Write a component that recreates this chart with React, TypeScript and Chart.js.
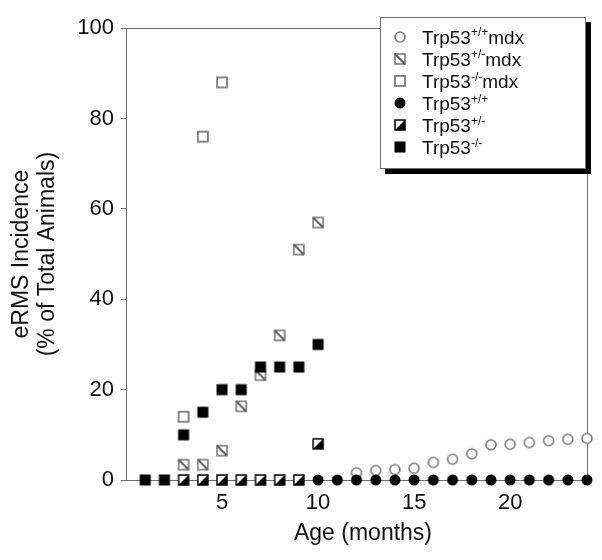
import React, { useEffect, useRef } from "react";
import { Chart, registerables } from "chart.js";

Chart.register(...registerables);

// ---- data ----
const months = [1, 2, 3, 4, 5, 6, 7, 8, 9, 10, 11, 12, 13, 14, 15, 16, 17, 18, 19, 20, 21, 22, 23, 24];
const xTickValues = [5, 10, 15, 20];
const yTickValues = [0, 20, 40, 60, 80, 100];

const trp53WtMdx = [null, null, null, null, null, null, null, null, null, null, null, 1.6, 2.1, 2.3, 2.6, 3.9, 4.6, 5.8, 7.8, 7.9, 8.3, 8.7, 9.0, 9.2];
const trp53HetMdx = [null, null, 3.4, 3.4, 6.5, 16.3, 23.2, 32.0, 51.0, 57.0, null, null, null, null, null, null, null, null, null, null, null, null, null, null];
const trp53NullMdx = [null, null, 14, 76, 88, null, null, null, null, null, null, null, null, null, null, null, null, null, null, null, null, null, null, null];
const trp53Wt = [null, null, null, null, null, null, null, null, null, 0, 0, 0, 0, 0, 0, 0, 0, 0, 0, 0, 0, 0, 0, 0];
const trp53Het = [null, null, 0, 0, 0, 0, 0, 0, 0, 8, null, null, null, null, null, null, null, null, null, null, null, null, null, null];
const trp53Null = [0, 0, 10, 15, 20, 20, 25, 25, 25, 30, null, null, null, null, null, null, null, null, null, null, null, null, null, null];

const legendNames: [string, string, string][] = [
  ["Trp53", "+/+", "mdx"],
  ["Trp53", "+/-", "mdx"],
  ["Trp53", "-/-", "mdx"],
  ["Trp53", "+/+", ""],
  ["Trp53", "+/-", ""],
  ["Trp53", "-/-", ""],
];
const yTitleLines = ["eRMS Incidence", "(% of Total Animals)"];
const xTitle = "Age (months)";

const FONT = "'Liberation Sans', Arial, Helvetica, sans-serif";
const GRAY = "#7a7a7a";

function toPoints(arr: (number | null)[]) {
  const out: { x: number; y: number }[] = [];
  months.forEach((m, i) => {
    const v = arr[i];
    if (v !== null && v !== undefined) out.push({ x: m, y: v });
  });
  return out;
}

function makeMarker(kind: string): HTMLCanvasElement {
  const s = 14;
  const c = document.createElement("canvas");
  c.width = s;
  c.height = s;
  const g = c.getContext("2d")!;
  if (kind === "openCircle") {
    g.beginPath();
    g.arc(7, 7, 5, 0, Math.PI * 2);
    g.fillStyle = "#fff";
    g.fill();
    g.lineWidth = 1.6;
    g.strokeStyle = GRAY;
    g.stroke();
  } else if (kind === "hatchSquare") {
    g.fillStyle = "#fff";
    g.fillRect(2, 2, 10, 10);
    g.lineWidth = 1.6;
    g.strokeStyle = GRAY;
    g.strokeRect(2, 2, 10, 10);
    g.beginPath();
    g.moveTo(2, 2);
    g.lineTo(12, 12);
    g.lineWidth = 1.8;
    g.strokeStyle = "#555";
    g.stroke();
  } else if (kind === "openSquare") {
    g.fillStyle = "#fff";
    g.fillRect(2, 2, 10, 10);
    g.lineWidth = 1.8;
    g.strokeStyle = GRAY;
    g.strokeRect(2, 2, 10, 10);
  } else if (kind === "filledCircle") {
    g.beginPath();
    g.arc(7, 7, 5.5, 0, Math.PI * 2);
    g.fillStyle = "#000";
    g.fill();
  } else if (kind === "halfSquare") {
    g.fillStyle = "#fff";
    g.fillRect(2, 2, 10, 10);
    g.beginPath();
    g.moveTo(12, 2);
    g.lineTo(12, 12);
    g.lineTo(2, 12);
    g.closePath();
    g.fillStyle = "#000";
    g.fill();
    g.lineWidth = 1.5;
    g.strokeStyle = "#000";
    g.strokeRect(2, 2, 10, 10);
  } else {
    g.fillStyle = "#000";
    g.fillRect(1.5, 1.5, 11, 11);
  }
  return c;
}

export default function App() {
  const ref = useRef<HTMLCanvasElement | null>(null);

  useEffect(() => {
    if (!ref.current) return;
    const markers = {
      openCircle: makeMarker("openCircle"),
      hatchSquare: makeMarker("hatchSquare"),
      openSquare: makeMarker("openSquare"),
      filledCircle: makeMarker("filledCircle"),
      halfSquare: makeMarker("halfSquare"),
      filledSquare: makeMarker("filledSquare"),
    };
    const legendMarkers = [
      markers.openCircle,
      markers.hatchSquare,
      markers.openSquare,
      markers.filledCircle,
      markers.halfSquare,
      markers.filledSquare,
    ];

    const decor = {
      id: "decor",
      beforeDatasetsDraw(chart: any) {
        const { ctx, chartArea } = chart;
        const { left, top, right, bottom } = chartArea;
        ctx.save();
        ctx.strokeStyle = "#6e6e6e";
        ctx.lineWidth = 1;
        ctx.strokeRect(Math.round(left) + 0.5, Math.round(top) + 0.5, Math.round(right - left), Math.round(bottom - top));
        const xs = chart.scales.x;
        ctx.beginPath();
        xTickValues.forEach((v) => {
          const px = Math.round(xs.getPixelForValue(v)) + 0.5;
          ctx.moveTo(px, bottom);
          ctx.lineTo(px, bottom - 5);
        });
        ctx.stroke();
        ctx.restore();
      },
      afterDraw(chart: any) {
        const { ctx, chartArea } = chart;
        ctx.save();
        // axis titles
        ctx.fillStyle = "#111";
        ctx.font = `23px ${FONT}`;
        ctx.textAlign = "center";
        ctx.textBaseline = "middle";
        const cy = (chartArea.top + chartArea.bottom) / 2;
        const xPositions = [14, 40];
        yTitleLines.forEach((line, i) => {
          ctx.save();
          ctx.translate(xPositions[i], cy);
          ctx.rotate(-Math.PI / 2);
          ctx.fillText(line, 0, 0);
          ctx.restore();
        });
        ctx.textBaseline = "alphabetic";
        ctx.fillText(xTitle, 355, 532);

        // legend
        const bx = 372, by = 9, bw = 206, bh = 152;
        ctx.fillStyle = "#000";
        ctx.fillRect(bx + 5, by + 5, bw, bh);
        ctx.fillStyle = "#fff";
        ctx.fillRect(bx, by, bw, bh);
        ctx.strokeStyle = "#6e6e6e";
        ctx.lineWidth = 1;
        ctx.strokeRect(bx + 0.5, by + 0.5, bw - 1, bh - 1);
        const rows = [28.7, 50.5, 73, 95.3, 117, 139.3];
        legendNames.forEach((parts, i) => {
          const yc = rows[i];
          const m = legendMarkers[i];
          ctx.drawImage(m, 392 - 7, Math.round(yc) - 7);
          let x = 414;
          const base = yc + 7;
          ctx.fillStyle = "#111";
          ctx.textAlign = "left";
          ctx.font = `19px ${FONT}`;
          ctx.fillText(parts[0], x, base);
          x += ctx.measureText(parts[0]).width;
          ctx.font = `12px ${FONT}`;
          ctx.fillText(parts[1], x, base - 7.5);
          x += ctx.measureText(parts[1]).width;
          if (parts[2]) {
            ctx.font = `19px ${FONT}`;
            ctx.fillText(parts[2], x, base);
          }
        });
        ctx.restore();
      },
    };

    const ds = (label: string, data: (number | null)[], marker: HTMLCanvasElement, order: number) => ({
      label,
      data: toPoints(data),
      pointStyle: marker,
      pointRadius: 6,
      showLine: false,
      order,
      clip: false as any,
    });

    const chart = new Chart(ref.current, {
      type: "scatter",
      data: {
        datasets: [
          ds("Trp53+/+mdx", trp53WtMdx, markers.openCircle, 6),
          ds("Trp53+/-mdx", trp53HetMdx, markers.hatchSquare, 5),
          ds("Trp53-/-mdx", trp53NullMdx, markers.openSquare, 4),
          ds("Trp53+/+", trp53Wt, markers.filledCircle, 3),
          ds("Trp53+/-", trp53Het, markers.halfSquare, 2),
          ds("Trp53-/-", trp53Null, markers.filledSquare, 1),
        ] as any,
      },
      options: {
        animation: false,
        responsive: false,
        layout: { padding: { left: 0, top: 9, right: 5, bottom: 0 } },
        plugins: { legend: { display: false }, tooltip: { enabled: false } },
        scales: {
          x: {
            type: "linear",
            min: 0,
            max: 24,
            afterFit: (s: any) => { s.height = 72; },
            afterBuildTicks: (s: any) => { s.ticks = xTickValues.map((v) => ({ value: v })); },
            grid: { display: false, drawTicks: false },
            border: { display: false },
            ticks: { color: "#111", font: { size: 22, family: FONT }, padding: 10, maxRotation: 0 },
          },
          y: {
            type: "linear",
            min: 0,
            max: 100,
            afterFit: (s: any) => { s.width = 118; },
            afterBuildTicks: (s: any) => { s.ticks = yTickValues.map((v) => ({ value: v })); },
            grid: { display: true, drawOnChartArea: false, drawTicks: true, tickLength: 5, color: "#6e6e6e" },
            border: { display: false },
            ticks: { color: "#111", font: { size: 22, family: FONT }, padding: 7 },
          },
        },
      },
      plugins: [decor],
    });
    return () => chart.destroy();
  }, []);

  return (
    <div style={{ width: 586, height: 544 }}>
      <canvas ref={ref} width={586} height={544} style={{ display: "block" }} />
    </div>
  );
}
